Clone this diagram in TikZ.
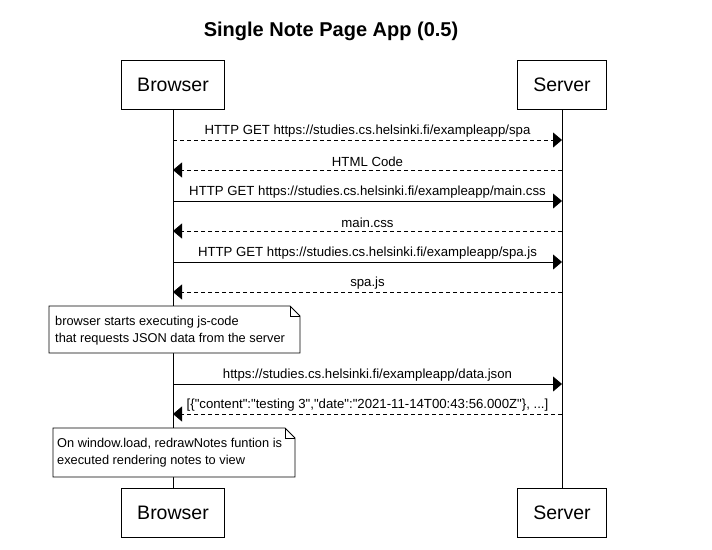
\documentclass[tikz,border=0pt]{standalone}
\usepackage{fontspec}
\setmainfont{Liberation Sans}[Ligatures=TeXOff]
\usetikzlibrary{arrows.meta}
\begin{document}
\begin{tikzpicture}[x=1pt,y=-1pt,
  actor/.style={draw,line width=0.8pt,inner xsep=15.5pt,minimum height=49pt,font=\fontsize{19.5}{24}\selectfont},
  msg/.style={line width=0.8pt,-{Triangle[length=9pt,width=15pt]}},
  reply/.style={msg,dash pattern=on 4pt off 3pt},
  lbl/.style={font=\fontsize{13.2}{16}\selectfont,inner sep=0pt},
  notetext/.style={align=left,font=\fontsize{12.8}{17}\selectfont,inner sep=0pt,anchor=north west}]
\useasboundingbox (0,0) rectangle (712,549);
\node[font=\bfseries\fontsize{20}{24}\selectfont] (title) at (331,31) {Single Note Page App (0.5)};
\node[actor] (bt) at (173,84.5) {Browser};
\node[actor] (st) at (562,84.5) {Server};
\node[actor] (bb) at (173,513) {Browser};
\node[actor] (sb) at (562,513) {Server};
\draw[line width=0.8pt] (bt.south) -- (bb.north);
\draw[line width=0.8pt] (st.south) -- (sb.north);
% messages
\coordinate (b1) at (173,140); \coordinate (s1) at (562,140);
\coordinate (b2) at (173,170); \coordinate (s2) at (562,170);
\coordinate (b3) at (173,201); \coordinate (s3) at (562,201);
\coordinate (b4) at (173,231); \coordinate (s4) at (562,231);
\coordinate (b5) at (173,262); \coordinate (s5) at (562,262);
\coordinate (b6) at (173,292); \coordinate (s6) at (562,292);
\coordinate (b7) at (173,384); \coordinate (s7) at (562,384);
\coordinate (b8) at (173,414); \coordinate (s8) at (562,414);
\draw[reply] (b1) -- node[lbl,above=2.5pt] (m1) {HTTP GET https://studies.cs.helsinki.fi/exampleapp/spa} (s1);
\draw[reply] (s2) -- node[lbl,above=2.5pt] (m2) {HTML Code} (b2);
\draw[msg] (b3) -- node[lbl,above=2.5pt] (m3) {HTTP GET https://studies.cs.helsinki.fi/exampleapp/main.css} (s3);
\draw[reply] (s4) -- node[lbl,above=2.5pt] (m4) {main.css} (b4);
\draw[msg] (b5) -- node[lbl,above=2.5pt] (m5) {HTTP GET https://studies.cs.helsinki.fi/exampleapp/spa.js} (s5);
\draw[reply] (s6) -- node[lbl,above=2.5pt] (m6) {spa.js} (b6);
\draw[msg] (b7) -- node[lbl,above=2.5pt] (m7) {https://studies.cs.helsinki.fi/exampleapp/data.json} (s7);
\draw[reply] (s8) -- node[lbl,above=2.5pt] (m8) {[\{"content":"testing 3","date":"2021-11-14T00:43:56.000Z"\}, ...]} (b8);
% notes
\filldraw[fill=white,line width=0.8pt] (49,306) -- (290,306) -- (300,316) -- (300,353) -- (49,353) -- cycle;
\draw[line width=0.8pt] (290,306) |- (300,316);
\node[notetext] (note1) at (55,316.5) {browser starts executing js-code\\that requests JSON data from the server};
\filldraw[fill=white,line width=0.8pt] (53,428) -- (285,428) -- (295,438) -- (295,477) -- (53,477) -- cycle;
\draw[line width=0.8pt] (285,428) |- (295,438);
\node[notetext] (note2) at (57,438.5) {On window.load, redrawNotes funtion is\\executed rendering notes to view};
\end{tikzpicture}
\end{document}
